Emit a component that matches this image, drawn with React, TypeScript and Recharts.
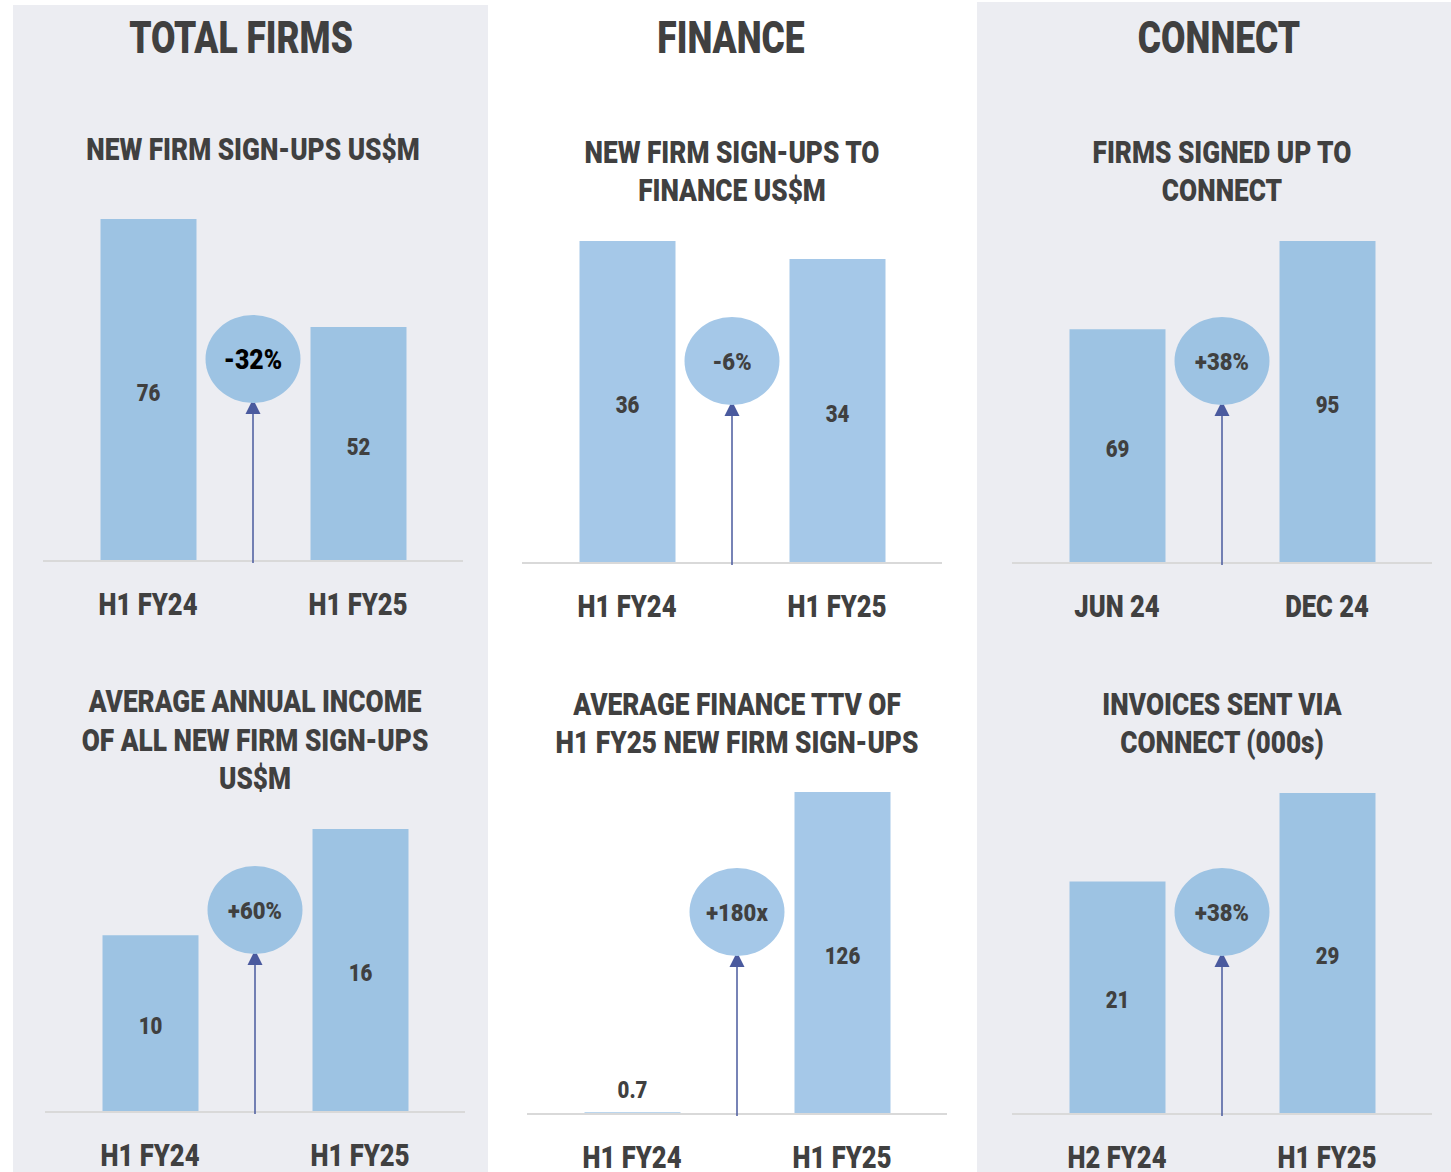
import React from 'react';
import { BarChart, Bar, XAxis, YAxis, LabelList, ReferenceDot } from 'recharts';

// values
const totalCats = ['H1 FY24', 'H1 FY25'];
const totalSignups = [76, 52];
const financeCats = ['H1 FY24', 'H1 FY25'];
const financeSignups = [36, 34];
const connectCats = ['JUN 24', 'DEC 24'];
const connectFirms = [69, 95];
const incomeCats = ['H1 FY24', 'H1 FY25'];
const incomeValues = [10, 16];
const ttvCats = ['H1 FY24', 'H1 FY25'];
const ttvValues = [0.7, 126];
const invoiceCats = ['H2 FY24', 'H1 FY25'];
const invoiceValues = [21, 29];
const changes = ['-32%', '-6%', '+38%', '+60%', '+180x', '+38%'];

const columnTitles = ['TOTAL FIRMS', 'FINANCE', 'CONNECT'];
const subtitles = [
  ['NEW FIRM SIGN-UPS US$M'],
  ['NEW FIRM SIGN-UPS TO', 'FINANCE US$M'],
  ['FIRMS SIGNED UP TO', 'CONNECT'],
  ['AVERAGE ANNUAL INCOME', 'OF ALL NEW FIRM SIGN-UPS', 'US$M'],
  ['AVERAGE FINANCE TTV OF', 'H1 FY25 NEW FIRM SIGN-UPS'],
  ['INVOICES SENT VIA', 'CONNECT (000s)'],
];

const FONT = 'Roboto, "Open Sans", sans-serif';
const WEIGHT = 900;
const TEXT = '#404040';
const ARROW = '#4a5a9e';
const GAP = '__gap';

// layout of each small chart (pixels)
const layouts = [
  { left: 43, top: 219, plotH: 342, subX: 253, subY: [149], fill: '#9dc3e3', bubbleText: '#000', bubbleFont: 27 },
  { left: 522, top: 241, plotH: 322, subX: 732, subY: [152, 190], fill: '#a5c8e8', bubbleText: TEXT, bubbleFont: 24 },
  { left: 1012, top: 241, plotH: 322, subX: 1222, subY: [152, 190], fill: '#9dc3e3', bubbleText: TEXT, bubbleFont: 24 },
  { left: 45, top: 829, plotH: 283, subX: 255, subY: [701, 740, 778], fill: '#9dc3e3', bubbleText: TEXT, bubbleFont: 24 },
  { left: 527, top: 792, plotH: 322, subX: 737, subY: [704, 742], fill: '#a5c8e8', bubbleText: TEXT, bubbleFont: 24 },
  { left: 1012, top: 793, plotH: 321, subX: 1222, subY: [704, 742], fill: '#9dc3e3', bubbleText: TEXT, bubbleFont: 24 },
];

const series = [
  { cats: totalCats, values: totalSignups },
  { cats: financeCats, values: financeSignups },
  { cats: connectCats, values: connectFirms },
  { cats: incomeCats, values: incomeValues },
  { cats: ttvCats, values: ttvValues },
  { cats: invoiceCats, values: invoiceValues },
];

const CenterText = ({ x, y, size, children, scale = 0.8 }: any) => (
  <div
    style={{
      position: 'absolute',
      left: x,
      top: y,
      transform: `translate(-50%, -50%) scaleX(${scale})`,
      fontFamily: FONT,
      fontWeight: WEIGHT,
      fontSize: size,
      color: TEXT,
      whiteSpace: 'nowrap',
      lineHeight: 1,
    }}
  >
    {children}
  </div>
);

function MiniChart({ idx }: { idx: number }) {
  const lay = layouts[idx];
  const { cats, values } = series[idx];
  const max = Math.max(...values);
  const rows = [
    { key: cats[0], value: values[0] },
    { key: GAP, value: null },
    { key: cats[1], value: values[1] },
  ];
  // bubble sits ~202px above the baseline
  const bubbleY = (max * 202) / lay.plotH;

  const renderTick = ({ x, payload }: any) => {
    if (payload.value === GAP) return null;
    return (
      <g transform={`translate(${x},${lay.plotH + 43}) scale(0.8,1)`}>
        <text textAnchor="middle" dominantBaseline="central" fontFamily={FONT} fontWeight={WEIGHT} fontSize={32} fill={TEXT}>
          {payload.value}
        </text>
      </g>
    );
  };

  const renderLabel = (p: any) => {
    const { x, y, width, height, value } = p;
    if (value == null) return null;
    const cx = Number(x) + Number(width) / 2;
    const cy = Number(height) < 30 ? Number(y) - 23 : Number(y) + Number(height) / 2 + 2;
    return (
      <g transform={`translate(${cx},${cy}) scale(0.85,1)`}>
        <text textAnchor="middle" dominantBaseline="central" fontFamily={FONT} fontWeight={WEIGHT} fontSize={24} fill={TEXT}>
          {value}
        </text>
      </g>
    );
  };

  const renderBubble = (p: any) => {
    const { cx, cy } = p;
    const tip = cy + 40;
    return (
      <g>
        <line x1={cx} y1={tip + 10} x2={cx} y2={lay.plotH + 2} stroke={ARROW} strokeWidth={1.5} />
        <polygon points={`${cx},${tip} ${cx - 7.5},${tip + 15} ${cx + 7.5},${tip + 15}`} fill={ARROW} />
        <ellipse cx={cx} cy={cy} rx={47.5} ry={44} fill={lay.fill} />
        <g transform={`translate(${cx},${cy + 1}) scale(0.92,1)`}>
          <text textAnchor="middle" dominantBaseline="central" fontFamily={FONT} fontWeight={WEIGHT} fontSize={lay.bubbleFont} fill={lay.bubbleText}>
            {changes[idx]}
          </text>
        </g>
      </g>
    );
  };

  return (
    <div style={{ position: 'absolute', left: lay.left, top: lay.top }}>
      <BarChart width={420} height={lay.plotH + 70} data={rows} margin={{ top: 0, right: 0, bottom: 0, left: 0 }}>
        <XAxis
          dataKey="key"
          height={70}
          padding={{ left: 52.5, right: 52.5 }}
          axisLine={{ stroke: '#d9d9d9', strokeWidth: 2 }}
          tickLine={false}
          tick={renderTick}
          interval={0}
        />
        <YAxis hide domain={[0, max]} allowDataOverflow />
        <Bar dataKey="value" fill={lay.fill} barSize={96} isAnimationActive={false}>
          <LabelList dataKey="value" content={renderLabel} />
        </Bar>
        <ReferenceDot x={GAP} y={bubbleY} r={1} shape={renderBubble} ifOverflow="visible" />
      </BarChart>
    </div>
  );
}

export default function App() {
  const colCenters = [241, 731, 1219];
  return (
    <div style={{ position: 'absolute', left: 0, top: 0, width: 1451, height: 1172, background: '#fff', overflow: 'hidden' }}>
      <div style={{ position: 'absolute', left: 13, top: 5, width: 475, height: 1167, background: '#ecedf2' }} />
      <div style={{ position: 'absolute', left: 977, top: 2, width: 474, height: 1170, background: '#ecedf2' }} />
      {columnTitles.map((t, i) => (
        <CenterText key={t} x={colCenters[i]} y={38} size={44} scale={0.805}>
          {t}
        </CenterText>
      ))}
      {layouts.map((lay, i) =>
        subtitles[i].map((line, j) => (
          <CenterText key={`${i}-${j}`} x={lay.subX} y={lay.subY[j]} size={32} scale={0.82}>
            {line}
          </CenterText>
        ))
      )}
      {layouts.map((_, i) => (
        <MiniChart key={i} idx={i} />
      ))}
    </div>
  );
}
